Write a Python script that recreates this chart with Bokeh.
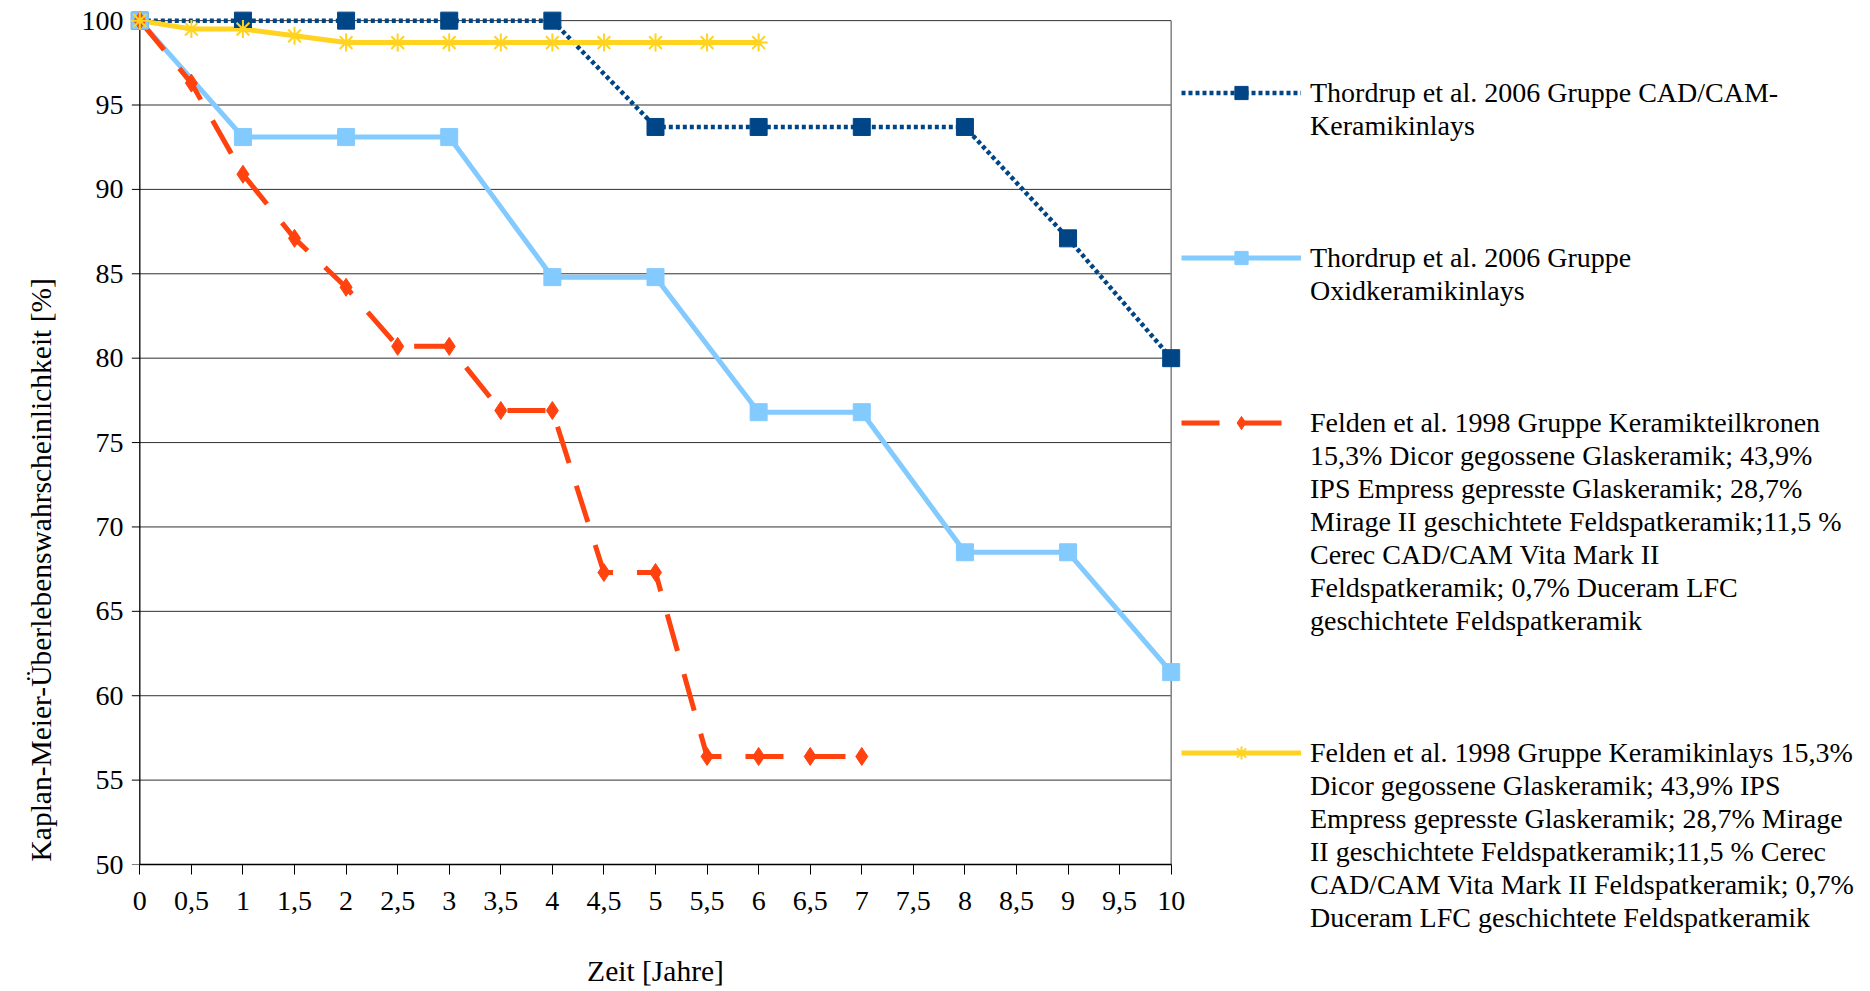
from bokeh.plotting import figure
from bokeh.models import Range1d, FixedTicker, Legend, LegendItem, Title
from bokeh.embed import file_html
from bokeh.resources import INLINE

FONT = "Liberation Serif"
FONT_SIZE = "28px"
TITLE_SIZE = "29.5px"

# x axis: time in years, half-year steps
tick_years = [0, 0.5, 1, 1.5, 2, 2.5, 3, 3.5, 4, 4.5, 5, 5.5, 6, 6.5, 7, 7.5, 8, 8.5, 9, 9.5, 10]
tick_labels = ["0", "0,5", "1", "1,5", "2", "2,5", "3", "3,5", "4", "4,5", "5",
               "5,5", "6", "6,5", "7", "7,5", "8", "8,5", "9", "9,5", "10"]
y_ticks = [50, 55, 60, 65, 70, 75, 80, 85, 90, 95, 100]

# Thordrup et al. 2006 (yearly values)
years_thordrup = [0, 1, 2, 3, 4, 5, 6, 7, 8, 9, 10]
cadcam = [100, 100, 100, 100, 100, 93.7, 93.7, 93.7, 93.7, 87.1, 80.0]
oxid = [100, 93.1, 93.1, 93.1, 84.8, 84.8, 76.8, 76.8, 68.5, 68.5, 61.4]

# Felden et al. 1998 (half-yearly values)
years_teilkronen = [0, 0.5, 1, 1.5, 2, 2.5, 3, 3.5, 4, 4.5, 5, 5.5, 6, 6.5, 7]
teilkronen = [100, 96.3, 90.9, 87.1, 84.2, 80.7, 80.7, 76.9, 76.9, 67.3, 67.3, 56.4, 56.4, 56.4, 56.4]
years_inlays = [0, 0.5, 1, 1.5, 2, 2.5, 3, 3.5, 4, 4.5, 5, 5.5, 6]
inlays = [100, 99.5, 99.5, 99.1, 98.7, 98.7, 98.7, 98.7, 98.7, 98.7, 98.7, 98.7, 98.7]

legend_texts = [
    ["Thordrup et al. 2006 Gruppe CAD/CAM-", "Keramikinlays"],
    ["Thordrup et al. 2006 Gruppe", "Oxidkeramikinlays"],
    ["Felden et al. 1998 Gruppe Keramikteilkronen",
     "15,3% Dicor gegossene Glaskeramik; 43,9%",
     "IPS Empress gepresste Glaskeramik; 28,7%",
     "Mirage II geschichtete Feldspatkeramik;11,5 %",
     "Cerec CAD/CAM Vita Mark II",
     "Feldspatkeramik; 0,7% Duceram LFC",
     "geschichtete Feldspatkeramik"],
    ["Felden et al. 1998 Gruppe Keramikinlays 15,3%",
     "Dicor gegossene Glaskeramik; 43,9% IPS",
     "Empress gepresste Glaskeramik; 28,7% Mirage",
     "II geschichtete Feldspatkeramik;11,5 % Cerec",
     "CAD/CAM Vita Mark II Feldspatkeramik; 0,7%",
     "Duceram LFC geschichtete Feldspatkeramik"],
]
# empty legend rows placed before each entry (legend is laid out on a line grid)
legend_gaps = [2, 3, 3, 3]

# line and marker styles per series
styles = [
    dict(color="#004586", lw=4.5, dash="4 3", marker="square", size=17, mlw=1),
    dict(color="#83CAFF", lw=5, dash="solid", marker="square", size=17, mlw=1),
    dict(color="#FF420E", lw=5, dash="38 24", marker="diamond", size=18, mlw=1),
    dict(color="#FFD320", lw=5, dash="solid", marker="asterisk", size=18, mlw=2),
]
series = [
    (years_thordrup, cadcam),
    (years_thordrup, oxid),
    (years_teilkronen, teilkronen),
    (years_inlays, inlays),
]

# ---- canvas geometry (pixels) ----
LEFT, TOP, BOTTOM, RIGHT = 129, 10, 127, 689
FRAME_W, FRAME_H = 1052, 854

p = figure(width=None, height=None, frame_width=FRAME_W, frame_height=FRAME_H,
           x_range=Range1d(-0.1, 10.1), y_range=Range1d(50, 100.6),
           output_backend="svg", toolbar_location=None,
           min_border_left=LEFT, min_border_right=RIGHT,
           min_border_top=TOP, min_border_bottom=BOTTOM)
p.outline_line_color = None
p.xgrid.visible = False
p.ygrid.visible = False

# horizontal grid lines, right frame edge, y axis line with its ticks
n = len(y_ticks)
px_per_year = FRAME_W / 10.2
p.segment(x0=[0] * n, x1=[10] * n, y0=y_ticks, y1=y_ticks, line_color="#303030", line_width=1)
p.segment(x0=[10], x1=[10], y0=[50], y1=[100], line_color="#808080", line_width=1.5)
p.segment(x0=[0], x1=[0], y0=[50], y1=[100], line_color="black", line_width=1.3)
tick_len = 8 / px_per_year
p.segment(x0=[-tick_len] * n, x1=[0] * n, y0=y_ticks, y1=y_ticks, line_color="black", line_width=1)

line_r, mark_r = [], []
for (xs, ys), st in zip(series, styles):
    line_r.append(p.line(xs, ys, line_color=st["color"], line_width=st["lw"], line_dash=st["dash"]))
for (xs, ys), st in zip(series, styles):
    mark_r.append(p.scatter(xs, ys, marker=st["marker"], size=st["size"],
                            fill_color=st["color"], line_color=st["color"], line_width=st["mlw"]))

for ax in (p.xaxis, p.yaxis):
    ax.major_tick_line_color = "black"
    ax.major_tick_in = 0
    ax.minor_tick_in = 0
    ax.minor_tick_out = 0
    ax.major_label_text_font = FONT
    ax.major_label_text_font_size = FONT_SIZE
    ax.major_label_text_color = "black"

p.xaxis.ticker = FixedTicker(ticks=tick_years)
p.xaxis.major_label_overrides = {t: lab for t, lab in zip(tick_years, tick_labels)}
p.xaxis.bounds = (0, 10)
p.xaxis.axis_line_color = "black"
p.xaxis.axis_line_width = 1.5
p.xaxis.major_tick_out = 10
p.xaxis.major_label_standoff = 17
p.xaxis.axis_label = "Zeit [Jahre]"
p.xaxis.axis_label_standoff = 42
p.xaxis.axis_label_text_font = FONT
p.xaxis.axis_label_text_font_size = TITLE_SIZE
p.xaxis.axis_label_text_font_style = "normal"
p.xaxis.axis_label_text_color = "black"

p.yaxis.ticker = FixedTicker(ticks=y_ticks)
p.yaxis.bounds = (50, 100)
p.yaxis.axis_line_color = None
p.yaxis.major_tick_out = 0
p.yaxis.major_label_standoff = 6

# y axis title, starting at the bottom of the plot area
p.add_layout(Title(text="Kaplan-Meier-Überlebenswahrscheinlichkeit [%]", align="left", offset=3,
                   standoff=44, text_font=FONT, text_font_size=TITLE_SIZE,
                   text_font_style="normal", text_color="black"), "left")

# ---- legend: one row per text line ----
items = []
for k, (lines, gap) in enumerate(zip(legend_texts, legend_gaps)):
    for _ in range(gap):
        items.append(LegendItem(label=" ", renderers=[]))
    items.append(LegendItem(label=lines[0], renderers=[line_r[k], mark_r[k]]))
    for t in lines[1:]:
        items.append(LegendItem(label=t, renderers=[]))

legend = Legend(items=items, location="top_left", orientation="vertical", ncols=1,
                margin=0, padding=0, spacing=0,
                glyph_width=120, glyph_height=33, label_height=33, label_standoff=9,
                label_text_font=FONT, label_text_font_size=FONT_SIZE, label_text_color="black",
                border_line_color=None, background_fill_alpha=0)
p.add_layout(legend, "right")

open("out.html", "w").write(file_html(p, INLINE))
